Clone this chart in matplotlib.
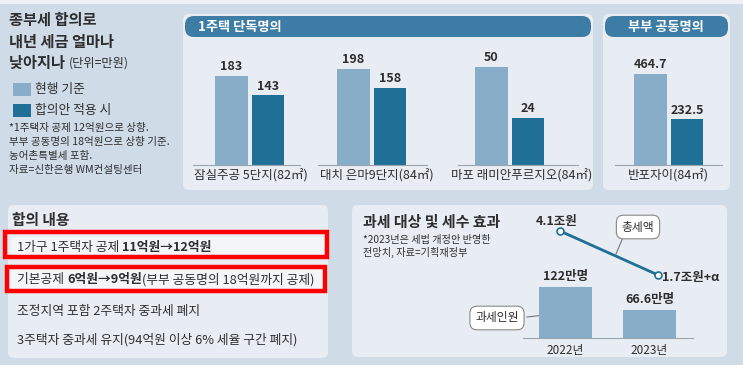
import matplotlib
matplotlib.use("Agg")
from matplotlib import pyplot as plt
from matplotlib.patches import FancyBboxPatch, Rectangle

plt.rcParams['font.family'] = ['Noto Sans CJK KR', 'DejaVu Sans']

# data
single_names = ['잠실주공 5단지(82㎡)', '대치 은마9단지(84㎡)', '마포 래미안푸르지오(84㎡)']
single_now = [183, 198, 50]
single_new = [143, 158, 24]
joint_name = '반포자이(84㎡)'
joint_now = 464.7
joint_new = 232.5
years = ['2022년', '2023년']
taxpayers = [122, 66.6]
taxpayer_labels = ['122만명', '66.6만명']
total_tax = [4.1, 1.7]
total_tax_labels = ['4.1조원', '1.7조원+α']
notes = ['*1주택자 공제 12억원으로 상향.', '부부 공동명의 18억원으로 상향 기준.',
         '농어촌특별세 포함.', '자료=신한은행 WM컨설팅센터']
agreement = [
    [('1가구 1주택자 공제 ', 'normal'), ('11억원→12억원', 'bold')],
    [('기본공제 ', 'normal'), ('6억원→9억원', 'bold'), ('(부부 공동명의 18억원까지 공제)', 'normal')],
    [('조정지역 포함 2주택자 중과세 폐지', 'normal')],
    [('3주택자 중과세 유지(94억원 이상 6% 세율 구간 폐지)', 'normal')],
]

W, H = 743, 365
BG = '#cfdce7'
PANEL = '#e7edf3'
HEAD = '#3d7ca4'
LIGHT = '#87adc9'
DARK = '#1f6f97'
TXT = '#2e2e2e'

fig = plt.figure(figsize=(W / 100, H / 100), dpi=100)
fig.patch.set_facecolor(BG)
bg = fig.add_axes([0, 0, 1, 1])
bg.set_xlim(0, W)
bg.set_ylim(H, 0)
bg.axis('off')


def box(x, y, w, h, fc, r=6, ec='none', lw=0, z=0):
    bg.add_patch(FancyBboxPatch((x + r, y + r), w - 2 * r, h - 2 * r,
                                boxstyle='round,pad=%d' % r, fc=fc, ec=ec, lw=lw, zorder=z))


bg.add_patch(Rectangle((0, 0), W, 4, fc='#eef2f6', ec='none'))

# panels
box(183, 14, 410, 176, PANEL)
box(603, 14, 127, 176, PANEL)
box(8, 205, 320, 153, PANEL)
box(352, 205, 375, 152, PANEL)
box(185, 16, 406, 21, HEAD, r=9)
box(605, 16, 123, 21, HEAD, r=9)
bg.text(198, 27, '1주택 단독명의', color='white', fontsize=9.5, fontweight='bold', va='center')
bg.text(666, 26.5, '부부 공동명의', color='white', fontsize=9.5, fontweight='bold', va='center', ha='center')

# title block
bg.text(9, 20, '종부세 합의로', fontsize=11, fontweight='bold', color=TXT, va='center')
bg.text(9, 42, '내년 세금 얼마나', fontsize=11, fontweight='bold', color=TXT, va='center')
t = bg.text(9, 63, '낮아지나 ', fontsize=11, fontweight='bold', color=TXT, va='center')
bg.annotate('(단위=만원)', xy=(1, 0.5), xycoords=t, fontsize=8.8, color=TXT, va='center')
bg.add_patch(Rectangle((13, 83), 18, 13, fc=LIGHT, ec='none'))
bg.add_patch(Rectangle((13, 104), 18, 13, fc=DARK, ec='none'))
bg.text(35, 89.5, '현행 기준', fontsize=9.2, color=TXT, va='center')
bg.text(35, 110.5, '합의안 적용 시', fontsize=9.2, color=TXT, va='center')
for i, line in enumerate(notes):
    bg.text(9, 128 + i * 14, line, fontsize=7.6, color=TXT, va='center')


def bar_group(x0, x1, light_left, now, new, top, fmt):
    unit = 36.5
    c0 = light_left + 16.5
    ax = fig.add_axes([x0 / W, 1 - 165 / H, (x1 - x0) / W, 125 / H])
    ax.set_xlim((x0 - c0) / unit, (x1 - c0) / unit)
    ax.set_ylim(0, top)
    ax.bar([0, 1], [now, new], width=0.9, color=[LIGHT, DARK])
    for i, v in enumerate([now, new]):
        ax.annotate(fmt % v, (i, v), xytext=(0, 2), textcoords='offset points',
                    ha='center', va='bottom', fontsize=9, fontweight='bold', color=TXT)
    ax.set_facecolor('none')
    for s in ['top', 'left', 'right']:
        ax.spines[s].set_visible(False)
    ax.spines['bottom'].set_color('#9aa5ae')
    ax.set_xticks([])
    ax.set_yticks([])
    return ax


groups = [(193, 300, 215, 257), (318, 427, 337, 257), (458, 578, 475, 63.8)]
for (x0, x1, ll, top), name, a, b in zip(groups, single_names, single_now, single_new):
    bar_group(x0, x1, ll, a, b, top, '%d')
    bg.text((x0 + x1) / 2 + 4, 176, name, fontsize=9, color=TXT, ha='center', va='center')
bar_group(615, 722, 634, joint_now, joint_new, 638, '%.1f')
bg.text(668, 176, joint_name, fontsize=9, color=TXT, ha='center', va='center')

# agreement list
bg.text(12, 220, '합의 내용', fontsize=10.6, fontweight='bold', color=TXT, va='center')
box(11, 237, 313, 21, '#f3f5f8', r=3)
box(11, 269, 313, 21, '#f3f5f8', r=3)
rows_y = [248, 280, 312, 340]
for y, parts in zip(rows_y, agreement):
    t = bg.text(17, y, parts[0][0], fontsize=9.2, fontweight=parts[0][1], color=TXT, va='center')
    for s, w in parts[1:]:
        t = bg.annotate(s, xy=(1, 0.5), xycoords=t, fontsize=9.2, fontweight=w, color=TXT, va='center')
bg.add_patch(Rectangle((5, 232), 322, 25, fill=False, ec='#ff0000', lw=3.2, zorder=5))
bg.add_patch(Rectangle((7, 267), 318, 24, fill=False, ec='#ff0000', lw=3.2, zorder=5))

# tax effect
bg.text(363, 222, '과세 대상 및 세수 효과', fontsize=10.8, fontweight='bold', color=TXT, va='center')
bg.text(363, 240, '*2023년은 세법 개정안 반영한', fontsize=7.3, color=TXT, va='center')
bg.text(363, 252, '전망치, 자료=기획재정부', fontsize=7.3, color=TXT, va='center')

axb = fig.add_axes([523 / W, 1 - 338 / H, 170 / W, 123 / H])
unit = 84
axb.set_xlim((523 - 565.5) / unit, (693 - 565.5) / unit)
axb.set_ylim(0, 294)
axb.bar([0, 1], taxpayers, width=53 / unit, color=LIGHT)
for i, (v, lab) in enumerate(zip(taxpayers, taxpayer_labels)):
    axb.annotate(lab, (i, v), xytext=(0, 3), textcoords='offset points',
                 ha='center', va='bottom', fontsize=9, fontweight='bold', color=TXT)
axb.set_xticks([0, 1])
axb.set_xticklabels(years, fontsize=8.5, color=TXT)
axb.tick_params(length=0, pad=4)
axb.set_yticks([])
axb.set_facecolor('none')
for s in ['top', 'left', 'right']:
    axb.spines[s].set_visible(False)
axb.spines['bottom'].set_color('#9aa5ae')

axl = fig.add_axes([560 / W, 1 - 275 / H, 98 / W, 44 / H])
axl.set_xlim(0, 1)
axl.set_ylim(min(total_tax), max(total_tax))
axl.plot([0, 1], total_tax, color=DARK, lw=2, marker='o', ms=5,
         mfc='white', mec=DARK, mew=1.2, clip_on=False)
axl.axis('off')
bg.text(557, 221, total_tax_labels[0], fontsize=9, fontweight='bold', color=TXT, ha='center', va='center')
bg.text(662, 277, total_tax_labels[1], fontsize=9, fontweight='bold', color=TXT, ha='left', va='center')

bg.plot([624, 616], [235, 254], color='#777777', lw=0.8)
bg.text(638, 227, '총세액', fontsize=8.5, color=TXT, ha='center', va='center',
        bbox=dict(boxstyle='round,pad=0.45,rounding_size=0.6', fc='white', ec='#888888', lw=0.8))
bg.plot([527, 545], [317, 315], color='#777777', lw=0.8)
bg.text(497, 318, '과세인원', fontsize=8.5, color=TXT, ha='center', va='center',
        bbox=dict(boxstyle='round,pad=0.45,rounding_size=0.6', fc='white', ec='#888888', lw=0.8))

fig.savefig('out.png', dpi=100, facecolor=BG)
